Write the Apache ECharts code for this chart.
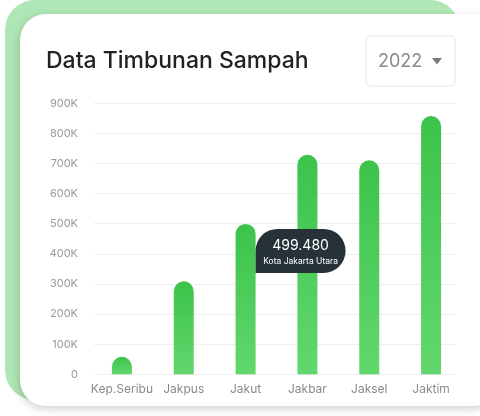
<!DOCTYPE html>
<html><head><meta charset="utf-8">
<script src="https://cdn.jsdelivr.net/npm/echarts@6/dist/echarts.min.js"></script>
<style>html,body{margin:0;padding:0;background:#fff;}#c{width:480px;height:416px;}</style>
</head><body><div id="c"></div>
<script>
const categories = ['Kep.Seribu', 'Jakpus', 'Jakut', 'Jakbar', 'Jaksel', 'Jaktim'];
const values = [58000, 309000, 499480, 729000, 711000, 858000];
const yTicks = [0, 100000, 200000, 300000, 400000, 500000, 600000, 700000, 800000, 900000];
const title = 'Data Timbunan Sampah';
const yearLabel = '2022';
const highlightIndex = 2;
const highlightValue = '499.480';
const highlightName = 'Kota Jakarta Utara';

const FONT = 'Inter, "DejaVu Sans", sans-serif';
const chart = echarts.init(document.getElementById('c'), null, {renderer: 'canvas'});
const fmt = v => v === 0 ? '0' : (v / 1000) + 'K';

const option = {
  animation: false,
  grid: [
    {left: 91, right: 18, top: 103.3, bottom: 41.7},
    {left: 94, right: 24, top: 103.3, bottom: 41.7}
  ],
  xAxis: [
    {type: 'category', data: categories, gridIndex: 0,
     axisLine: {show: false}, axisTick: {show: false},
     axisLabel: {interval: 0, color: '#8a8a8a', fontSize: 12, fontFamily: FONT, margin: 9}},
    {type: 'value', gridIndex: 1, show: false, min: 0, max: 1}
  ],
  yAxis: [
    {type: 'value', gridIndex: 0, min: yTicks[0], max: yTicks[yTicks.length - 1], interval: 100000,
     axisLine: {show: false}, axisTick: {show: false}, splitLine: {show: false},
     axisLabel: {color: '#9a9a9a', fontSize: 11, fontFamily: FONT, margin: 13, formatter: fmt}},
    {type: 'value', gridIndex: 1, min: yTicks[0], max: yTicks[yTicks.length - 1], interval: 100000,
     axisLine: {show: false}, axisTick: {show: false}, axisLabel: {show: false},
     splitLine: {show: true, lineStyle: {color: '#eeeeee', width: 1}}}
  ],
  series: [{
    type: 'bar', data: values, xAxisIndex: 0, yAxisIndex: 0, barWidth: 20, z: 5,
    itemStyle: {
      borderRadius: [10, 10, 0, 0],
      color: new echarts.graphic.LinearGradient(0, 0, 0, 1, [
        {offset: 0, color: '#3cc34a'}, {offset: 1, color: '#62d76e'}
      ])
    }
  }],
  graphic: [
    {type: 'rect', z: -10, shape: {x: 5, y: 0, width: 455, height: 400, r: 30}, style: {fill: '#afe6b5'}},
    {type: 'rect', z: -9, shape: {x: 20, y: 14, width: 480, height: 392, r: 26},
     style: {fill: '#ffffff', shadowBlur: 8, shadowColor: 'rgba(0,0,0,0.18)', shadowOffsetX: -1, shadowOffsetY: 3}},
    {type: 'text', z: 10, x: 46, y: 61, style: {text: title, fill: '#222222', font: '500 23px ' + FONT, verticalAlign: 'middle'}},
    {type: 'rect', z: 10, shape: {x: 366, y: 36, width: 89, height: 50, r: 4}, style: {fill: '#fff', stroke: '#e6e6e6', lineWidth: 1}},
    {type: 'text', z: 11, x: 378, y: 62, style: {text: yearLabel, fill: '#8a8a8a', font: '18px ' + FONT, verticalAlign: 'middle'}},
    {type: 'polygon', z: 11, shape: {points: [[432, 58], [442, 58], [437, 64.5]]}, style: {fill: '#7a7a7a'}}
  ]
};
chart.setOption(option);

const p = chart.convertToPixel({seriesIndex: 0}, [categories[highlightIndex], values[highlightIndex]]);
const bx = p[0] + 10, by = p[1] + 5, bw = 90, bh = 44;
chart.setOption({graphic: option.graphic.concat([
  {type: 'rect', z: 20, shape: {x: bx, y: by, width: bw, height: bh, r: [22, 22, 22, 0]}, style: {fill: '#263238'}},
  {type: 'text', z: 21, x: bx + bw / 2, y: by + 17, style: {text: highlightValue, fill: '#ffffff', font: '14px ' + FONT, align: 'center', verticalAlign: 'middle'}},
  {type: 'text', z: 21, x: bx + bw / 2, y: by + 33, style: {text: highlightName, fill: '#ffffff', font: '8.5px ' + FONT, align: 'center', verticalAlign: 'middle'}}
])});
</script></body></html>
